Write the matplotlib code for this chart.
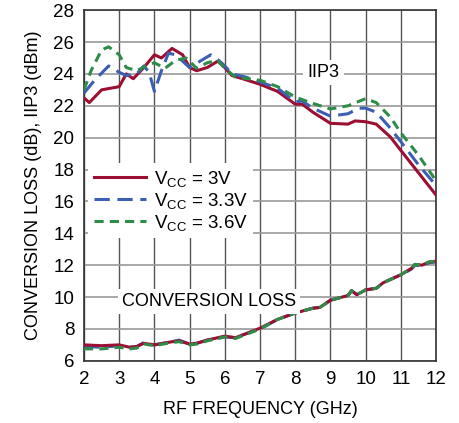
import numpy as np
import matplotlib
matplotlib.use("Agg")
import matplotlib.pyplot as plt

plt.rcParams["font.family"] = ["Liberation Sans", "DejaVu Sans"]
plt.rcParams["mathtext.fontset"] = "custom"
plt.rcParams["mathtext.rm"] = "Liberation Sans"
plt.rcParams["mathtext.default"] = "regular"

# ── IIP3 curves (dBm) ─────────────────────────────────────────────
f_red = [2.0, 2.15, 2.5, 3.0, 3.2, 3.4, 3.7, 4.0, 4.2, 4.5, 4.8, 5.0, 5.2, 5.5, 5.8, 6.0,
         6.2, 6.5, 7.0, 7.5, 8.0, 8.2, 8.5, 9.0, 9.5, 9.7, 10.0, 10.3, 10.7, 11.0, 11.5, 12.0]
iip3_3v = [22.5, 22.2, 23.0, 23.2, 24.0, 23.7, 24.4, 25.2, 25.0, 25.6, 25.2, 24.4, 24.2, 24.4, 24.8, 24.4,
           23.9, 23.7, 23.35, 22.9, 22.1, 22.1, 21.6, 20.9, 20.85, 21.05, 21.0, 20.85, 20.05, 19.2, 17.8, 16.4]

f_blue = [2.0, 2.3, 2.7, 3.0, 3.2, 3.5, 3.7, 3.85, 4.0, 4.2, 4.4, 4.6, 5.0, 5.3, 5.6, 5.8, 6.0,
          6.2, 6.6, 7.0, 7.5, 8.0, 8.2, 8.5, 9.0, 9.5, 9.8, 10.0, 10.3, 10.7, 11.0, 11.5, 12.0]
iip3_33v = [22.8, 23.6, 24.5, 24.1, 23.9, 24.0, 24.5, 24.1, 22.9, 24.2, 25.3, 25.2, 24.4, 24.8, 25.2, 24.9, 24.5,
            24.0, 23.8, 23.5, 23.1, 22.25, 22.3, 21.85, 21.35, 21.5, 21.85, 21.85, 21.6, 20.6, 19.75, 18.3, 17.0]

f_green = [2.0, 2.2, 2.5, 2.7, 3.0, 3.2, 3.5, 3.8, 4.0, 4.3, 4.6, 4.9, 5.2, 5.5, 5.8, 6.0,
           6.3, 7.0, 7.5, 8.0, 8.5, 9.0, 9.5, 10.0, 10.3, 10.7, 11.0, 11.5, 12.0]
iip3_36v = [23.0, 24.2, 25.5, 25.7, 25.2, 24.4, 24.2, 24.55, 24.7, 24.35, 24.85, 25.0, 24.35, 24.7, 24.85, 24.35,
            23.8, 23.6, 23.2, 22.55, 22.15, 21.8, 22.0, 22.45, 22.2, 21.3, 20.3, 18.9, 17.3]

# ── conversion loss (dB) ──────────────────────────────────────────
f_cl = [2.0, 2.5, 3.0, 3.3, 3.5, 3.7, 4.0, 4.5, 4.7, 5.0, 5.2, 5.5, 6.0, 6.3, 6.6, 7.0,
        7.5, 8.0, 8.5, 8.7, 9.0, 9.5, 9.6, 9.75, 10.0, 10.3, 10.5, 11.0, 11.3, 11.4, 11.6, 11.8, 12.0]
cl_3v = [7.0, 6.95, 7.0, 6.85, 6.9, 7.1, 7.0, 7.2, 7.25, 7.05, 7.1, 7.3, 7.55, 7.45, 7.7, 8.05,
         8.6, 9.0, 9.3, 9.35, 9.8, 10.1, 10.4, 10.15, 10.45, 10.55, 10.9, 11.4, 11.8, 12.05, 12.0, 12.2, 12.25]
cl_33v = [6.9, 6.85, 6.95, 6.85, 6.9, 7.15, 7.0, 7.2, 7.3, 7.05, 7.1, 7.3, 7.5, 7.45, 7.7, 8.0,
          8.6, 9.0, 9.3, 9.35, 9.8, 10.1, 10.4, 10.15, 10.45, 10.55, 10.9, 11.4, 11.75, 12.0, 11.95, 12.15, 12.2]
cl_36v = [6.75, 6.75, 6.85, 6.75, 6.8, 7.05, 6.95, 7.15, 7.2, 7.0, 7.05, 7.25, 7.5, 7.4, 7.65, 8.0,
          8.6, 9.0, 9.3, 9.35, 9.8, 10.1, 10.4, 10.15, 10.45, 10.55, 10.9, 11.4, 11.8, 12.05, 12.0, 12.2, 12.25]

x_ticks = list(range(2, 13))
y_ticks = list(range(6, 29, 2))

RED, BLUE, GREEN = "#9c0f32", "#3c5fb4", "#2f8c48"

fig = plt.figure(figsize=(4.59, 4.23), dpi=100)
ax = fig.add_axes([0.183, 0.147, 0.767, 0.829])

# grid
for x in x_ticks:
    ax.axvline(x, color="#555555", lw=1.0, zorder=0)
for y in y_ticks:
    ax.axhline(y, color="#999999", lw=1.2, zorder=0)

lw = 2.2
ax.plot(f_red, iip3_3v, color=RED, lw=lw, label="V$_{CC}$ = 3V", zorder=3)
ax.plot(f_blue, iip3_33v, color=BLUE, lw=lw, dashes=(5, 2.5), label="V$_{CC}$ = 3.3V", zorder=3)
ax.plot(f_green, iip3_36v, color=GREEN, lw=lw, dashes=(3, 2), label="V$_{CC}$ = 3.6V", zorder=4)

ax.plot(f_cl, cl_3v, color=RED, lw=lw, zorder=3)
ax.plot(f_cl, cl_33v, color=BLUE, lw=lw, dashes=(5, 2.5), zorder=2)
ax.plot(f_cl, cl_36v, color=GREEN, lw=lw, dashes=(3, 2), zorder=4)

ax.set_xlim(2, 12); ax.set_ylim(6, 28)
ax.set_xticks(x_ticks); ax.set_yticks(y_ticks)
ax.tick_params(length=0, labelsize=13.5, pad=7)
for s in ax.spines.values():
    s.set_color("#333333"); s.set_linewidth(1.2)

ax.text(8.8, 24.1, "IIP3", fontsize=13, ha="center", va="center",
        bbox=dict(facecolor="white", edgecolor="none", pad=3), zorder=5)
ax.text(5.55, 9.7, "CONVERSION LOSS", fontsize=13, ha="center", va="center",
        bbox=dict(facecolor="white", edgecolor="none", pad=3), zorder=5)

leg = ax.legend(loc="upper left", bbox_to_anchor=(-0.015, 0.59), fontsize=13.5,
                frameon=True, fancybox=False, edgecolor="none", framealpha=1,
                handlelength=2.8, handletextpad=0.4, labelspacing=0.1, borderpad=0.3)
leg.set_zorder(6)

ax.set_xlabel("RF FREQUENCY (GHz)", fontsize=13, labelpad=10)
ax.set_ylabel("CONVERSION LOSS (dB), IIP3 (dBm)", fontsize=13, labelpad=8)

fig.savefig("out.png", dpi=100)
